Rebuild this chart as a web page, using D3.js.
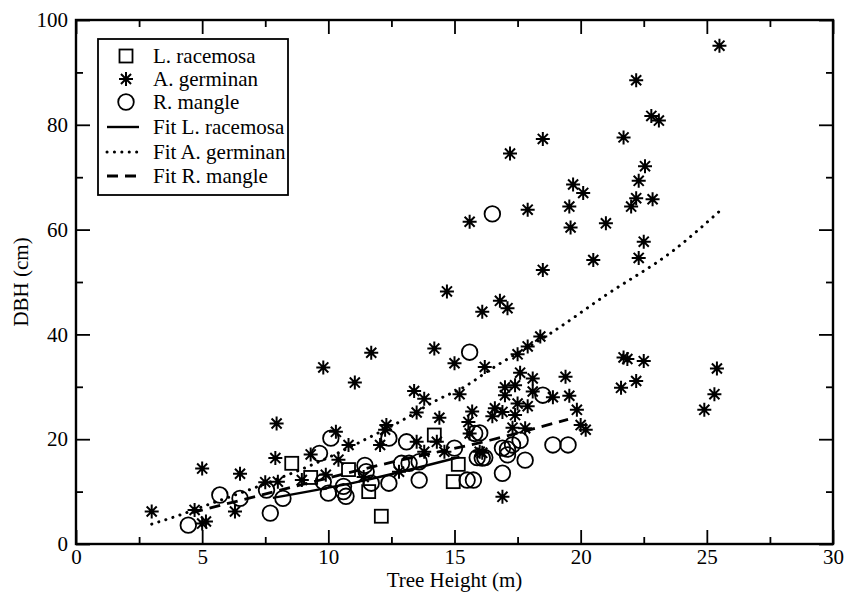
<!DOCTYPE html>
<html><head><meta charset="utf-8">
<script src="https://cdn.jsdelivr.net/npm/d3@7"></script>
<style>body{margin:0;background:#fff}</style>
</head><body>
<svg id="c" width="844" height="594"></svg>
<script>
const xTicks=[0,5,10,15,20,25,30];
const xMinor=[2.5,7.5,12.5,17.5,22.5,27.5];
const yTicks=[0,20,40,60,80,100];
const yMinor=[10,30,50,70,90];
const xTitle="Tree Height (m)";
const yTitle="DBH (cm)";
const seriesNames=["L. racemosa","A. germinan","R. mangle"];
const fitNames=["Fit L. racemosa","Fit A. germinan","Fit R. mangle"];

const racemosa=[[8.55,15.4],[9.3,12.7],[10.8,14.2],[11.6,10.0],[12.1,5.3],[14.2,20.8],[15.15,15.2],[14.95,11.9]];

const germinan=[[25.5,95.1],[22.2,88.5],[22.8,81.7],[23.1,80.8],[21.7,77.6],[22.55,72.1],[22.3,69.3],[19.7,68.6],[20.1,67.0],[22.2,66.0],[22.85,65.8],[22.0,64.4],[19.55,64.4],[19.6,60.4],[21.0,61.2],[22.5,57.7],[20.5,54.2],[22.3,54.6],[18.5,77.3],[17.2,74.5],[17.9,63.8],[15.6,61.5],[18.5,52.3],[14.7,48.2],[16.8,46.4],[17.1,45.0],[16.1,44.3],[18.4,39.6],[17.9,37.7],[17.5,36.2],[14.2,37.3],[15.0,34.5],[16.2,33.8],[21.7,35.6],[21.85,35.3],[22.5,34.9],[22.2,31.1],[21.6,29.8],[25.4,33.5],[25.3,28.6],[24.9,25.6],[19.4,31.9],[17.6,32.7],[18.1,31.6],[17.0,29.9],[17.4,30.3],[19.55,28.3],[18.9,28.0],[18.1,29.1],[17.0,28.4],[15.2,28.6],[13.8,27.7],[13.4,29.2],[15.7,25.3],[17.5,26.8],[17.9,26.3],[16.6,25.9],[16.9,25.2],[16.5,24.4],[17.4,24.6],[19.85,25.6],[20.0,22.7],[20.2,21.8],[17.3,22.2],[17.8,22.1],[16.1,17.4],[11.05,30.8],[9.8,33.7],[11.7,36.5],[13.5,25.1],[14.4,24.1],[15.55,23.3],[15.6,21.1],[10.3,21.4],[10.8,18.9],[12.3,22.7],[12.25,21.8],[12.05,18.9],[10.4,16.1],[13.5,19.5],[14.3,19.5],[13.8,17.6],[14.6,17.6],[16.0,17.6],[16.9,9.0],[12.8,13.8],[9.9,13.2],[11.4,12.8],[3.0,6.2],[5.0,14.4],[4.7,6.5],[5.0,3.9],[5.15,4.3],[6.5,13.4],[6.3,6.2],[7.95,23.0],[7.9,16.4],[7.5,11.8],[8.0,11.9],[9.3,17.1],[8.95,12.2]];

const mangle=[[4.45,3.6],[5.7,9.35],[6.5,8.7],[7.55,10.3],[7.7,5.9],[8.2,8.7],[9.65,17.3],[10.1,20.2],[10.0,9.7],[10.6,11.0],[10.6,10.0],[10.7,9.1],[9.8,11.9],[12.4,20.2],[13.1,19.5],[15.0,18.3],[15.8,21.1],[18.5,28.4],[16.9,18.3],[17.1,18.1],[17.3,18.9],[17.6,19.8],[17.1,17.0],[17.8,16.0],[18.9,18.9],[19.5,18.9],[16.9,13.5],[15.9,16.5],[16.2,16.5],[11.45,15.0],[11.5,13.8],[12.9,15.4],[13.2,15.4],[13.6,15.7],[13.6,12.2],[12.4,11.6],[11.7,11.6],[15.5,12.2],[15.75,12.2],[15.6,36.6],[16.5,63.0],[16.1,16.4],[16.0,21.2]];

const fitRacemosa=[[7.8,8.8],[11.3,12.0],[15.2,16.6]];
const fitGerminan=[[3.0,3.8],[4.1,5.5],[5.0,7.1],[7.5,11.5],[10.0,16.5],[11.4,19.8],[13.0,23.8],[14.2,27.2],[15.5,30.3],[16.3,32.9],[18.9,40.5],[21.0,47.5],[23.7,56.1],[25.5,63.5]];
const fitMangle=[[4.6,6.0],[6.9,8.8],[12.6,15.7],[16.4,19.8],[19.5,23.8]];

const FONT="'Liberation Serif','Times New Roman',serif";
const svg=d3.select('#c');
const x=d3.scaleLinear().domain([0,30]).range([76,833]);
const y=d3.scaleLinear().domain([0,100]).range([544,20]);

function styleAxis(g){
  g.select('.domain').remove();
  g.selectAll('.tick line').attr('stroke','#000').attr('stroke-width',1.8);
  g.selectAll('.tick text').attr('font-family',FONT).attr('font-size',21).attr('fill','#000');
}
svg.append('g').attr('transform',`translate(0,${y(0)})`).call(d3.axisBottom(x).tickValues(xTicks).tickSize(-14).tickPadding(5)).call(styleAxis);
svg.append('g').attr('transform',`translate(0,${y(0)})`).call(d3.axisBottom(x).tickValues(xMinor).tickSize(-7).tickFormat('')).call(styleAxis);
svg.append('g').attr('transform',`translate(0,${y(100)})`).call(d3.axisTop(x).tickValues(xTicks).tickSize(-14).tickFormat('')).call(styleAxis);
svg.append('g').attr('transform',`translate(0,${y(100)})`).call(d3.axisTop(x).tickValues(xMinor).tickSize(-7).tickFormat('')).call(styleAxis);
svg.append('g').attr('transform',`translate(${x(0)},0)`).call(d3.axisLeft(y).tickValues(yTicks).tickSize(-14).tickPadding(8)).call(styleAxis);
svg.append('g').attr('transform',`translate(${x(0)},0)`).call(d3.axisLeft(y).tickValues(yMinor).tickSize(-7).tickFormat('')).call(styleAxis);
svg.append('g').attr('transform',`translate(${x(30)},0)`).call(d3.axisRight(y).tickValues(yTicks).tickSize(-14).tickFormat('')).call(styleAxis);
svg.append('g').attr('transform',`translate(${x(30)},0)`).call(d3.axisRight(y).tickValues(yMinor).tickSize(-7).tickFormat('')).call(styleAxis);

svg.append('rect').attr('x',x(0)).attr('y',y(100)).attr('width',x(30)-x(0)).attr('height',y(0)-y(100))
  .attr('fill','none').attr('stroke','#000').attr('stroke-width',2.4);

svg.append('text').attr('x',(x(0)+x(30))/2).attr('y',587).attr('text-anchor','middle')
  .attr('font-family',FONT).attr('font-size',21).text(xTitle);
svg.append('text').attr('transform',`translate(28,${(y(0)+y(100))/2}) rotate(-90)`).attr('text-anchor','middle')
  .attr('font-family',FONT).attr('font-size',21).text(yTitle);

const line=d3.line().x(d=>x(d[0])).y(d=>y(d[1])).curve(d3.curveMonotoneX);
const lineStyles=[
  {data:fitRacemosa,dash:null,w:2.4,cap:'butt'},
  {data:fitGerminan,dash:'0.1 7.3',w:3,cap:'round'},
  {data:fitMangle,dash:'11 7',w:2.8,cap:'butt'}
];
lineStyles.forEach(s=>{
  svg.append('path').datum(s.data).attr('d',line).attr('fill','none').attr('stroke','#000')
    .attr('stroke-width',s.w).attr('stroke-linecap',s.cap).attr('stroke-dasharray',s.dash);
});

const R=7;
const starPath=`M${-R},0L${R},0M0,${-R}L0,${R}M${-R*0.72},${-R*0.72}L${R*0.72},${R*0.72}M${-R*0.72},${R*0.72}L${R*0.72},${-R*0.72}`;
function drawSquare(g,cx,cy){g.append('rect').attr('x',cx-6.5).attr('y',cy-6.5).attr('width',13).attr('height',13).attr('fill','none').attr('stroke','#000').attr('stroke-width',1.8);}
function drawStar(g,cx,cy){
  g.append('path').attr('d',starPath).attr('transform',`translate(${cx},${cy})`).attr('fill','none').attr('stroke','#000').attr('stroke-width',2);
  g.append('circle').attr('cx',cx).attr('cy',cy).attr('r',2.2).attr('fill','#000');
}
function drawCircle(g,cx,cy){g.append('circle').attr('cx',cx).attr('cy',cy).attr('r',7.8).attr('fill','none').attr('stroke','#000').attr('stroke-width',1.8);}

const pts=svg.append('g');
racemosa.forEach(d=>drawSquare(pts,x(d[0]),y(d[1])));
germinan.forEach(d=>drawStar(pts,x(d[0]),y(d[1])));
mangle.forEach(d=>drawCircle(pts,x(d[0]),y(d[1])));

// legend
const lg=svg.append('g');
lg.append('rect').attr('x',98).attr('y',39).attr('width',190).attr('height',156).attr('fill','#fff').attr('stroke','#000').attr('stroke-width',1.8);
const rows=[56,79,102,127,152,176];
const labels=seriesNames.concat(fitNames);
drawSquare(lg,126,rows[0]);
drawStar(lg,126,rows[1]);
drawCircle(lg,126,rows[2]);
lineStyles.forEach((s,i)=>{
  lg.append('line').attr('x1',107).attr('x2',139).attr('y1',rows[3+i]).attr('y2',rows[3+i]).attr('stroke','#000')
    .attr('stroke-width',s.w).attr('stroke-linecap',s.cap).attr('stroke-dasharray',s.dash);
});
labels.forEach((t,i)=>{
  lg.append('text').attr('x',153).attr('y',rows[i]+7).attr('font-family',FONT).attr('font-size',21).text(t);
});
</script>
</body></html>
